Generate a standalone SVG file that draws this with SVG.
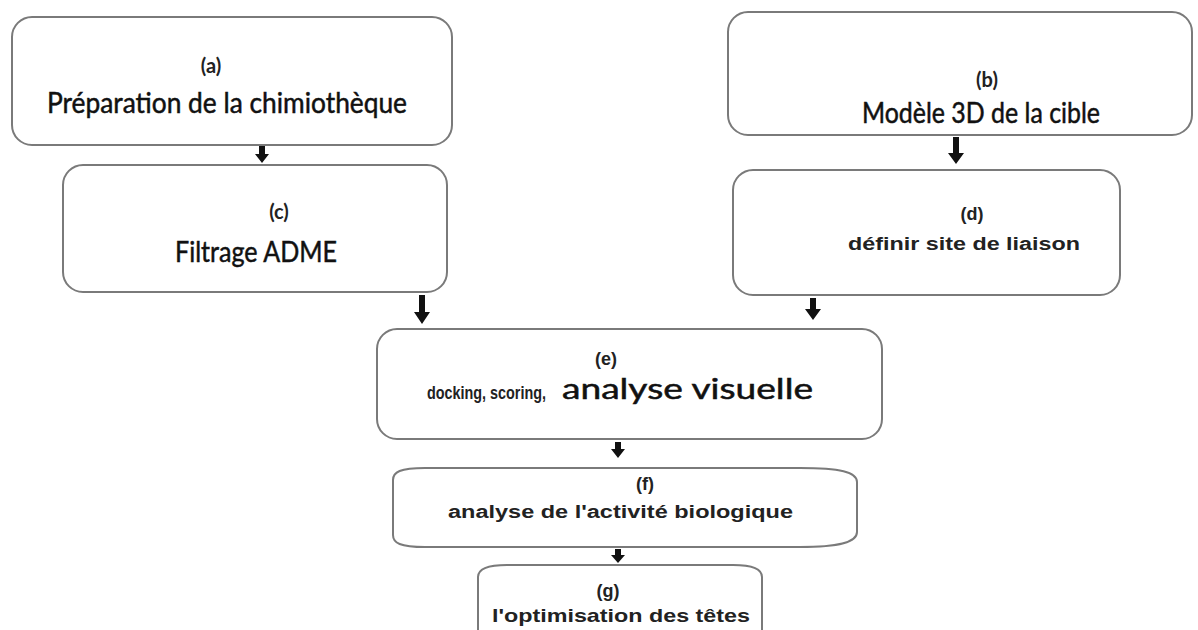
<svg xmlns="http://www.w3.org/2000/svg" width="1198" height="630" viewBox="0 0 1198 630">
<style>
.box{fill:#fff;stroke:#7a7a7a;stroke-width:2}
.big{font-family:Lato,"Open Sans","Liberation Sans",sans-serif;font-size:29px;fill:#111;stroke:#111;stroke-width:0.5}
.lblc{font-family:Lato,"Open Sans","Liberation Sans",sans-serif;font-size:20px;font-weight:bold;fill:#222}
.sm{font-family:"Liberation Sans",Arial,sans-serif;font-weight:bold;font-size:18px;fill:#222}
.arr{fill:#111}
</style>
<rect width="1198" height="630" fill="#fff"/>
<g id="connectors">
<path class="arr" d="M259,145 H265 V154 H269 L262,163 L255,154 H259 Z"/>
<path class="arr" d="M953,137 H959 V153 H964 L956,164 L948,153 H953 Z"/>
<path class="arr" d="M419,295 H425 V312 H430 L422,324 L414,312 H419 Z"/>
<path class="arr" d="M810,298 H816 V309 H821 L813,320 L805,309 H810 Z"/>
<path class="arr" d="M615,442 H621 V449 H625 L618,458 L611,449 H615 Z"/>
<path class="arr" d="M615,549 H621 V555 H625 L618,563 L611,555 H615 Z"/>
</g>
<g id="node-a">
<rect class="box" x="12" y="17" width="440" height="128" rx="20"/>
<text class="lblc" x="211" y="73" text-anchor="middle">(a)</text>
<text class="big" x="47" y="113" textLength="360" lengthAdjust="spacingAndGlyphs">Préparation de la chimiothèque</text>
</g>
<g id="node-b">
<rect class="box" x="728" y="12" width="464" height="123" rx="20"/>
<text class="lblc" x="987" y="87" text-anchor="middle">(b)</text>
<text class="big" x="862" y="123" textLength="238" lengthAdjust="spacingAndGlyphs">Modèle 3D de la cible</text>
</g>
<g id="node-c">
<rect class="box" x="63" y="165" width="384" height="127" rx="20"/>
<text class="lblc" x="279" y="219" text-anchor="middle">(c)</text>
<text class="big" x="175" y="262" textLength="162" lengthAdjust="spacingAndGlyphs">Filtrage ADME</text>
</g>
<g id="node-d">
<rect class="box" x="733" y="170" width="387" height="125" rx="20"/>
<text class="sm" x="972" y="220" text-anchor="middle">(d)</text>
<text class="sm" x="848" y="250" textLength="232" lengthAdjust="spacingAndGlyphs">définir site de liaison</text>
</g>
<g id="node-e">
<rect class="box" x="377" y="329" width="505" height="110" rx="20"/>
<text class="sm" x="606" y="365" text-anchor="middle">(e)</text>
<text class="sm" x="427" y="399" textLength="119" lengthAdjust="spacingAndGlyphs">docking, scoring,</text>
<text class="big" x="562" y="399" textLength="251" lengthAdjust="spacingAndGlyphs">analyse visuelle</text>
</g>
<g id="node-f">
<path class="box" d="M425,468 H800 C840,468 857,472 857,482 V532 C857,542 840,547 800,547 H425 C400,547 393,543 393,535 V480 C393,472 400,468 425,468 Z"/>
<text class="sm" x="645" y="490" text-anchor="middle">(f)</text>
<text class="sm" x="448" y="518" textLength="345" lengthAdjust="spacingAndGlyphs">analyse de l'activité biologique</text>
</g>
<g id="node-g">
<path class="box" d="M478,640 V577 C478,569 488,565 507,565 H733 C752,565 762,569 762,577 V640"/>
<text class="sm" x="608" y="597" text-anchor="middle">(g)</text>
<text class="sm" x="492" y="622" textLength="258" lengthAdjust="spacingAndGlyphs" style="font-size:19px">l'optimisation des têtes</text>
</g>
</svg>
